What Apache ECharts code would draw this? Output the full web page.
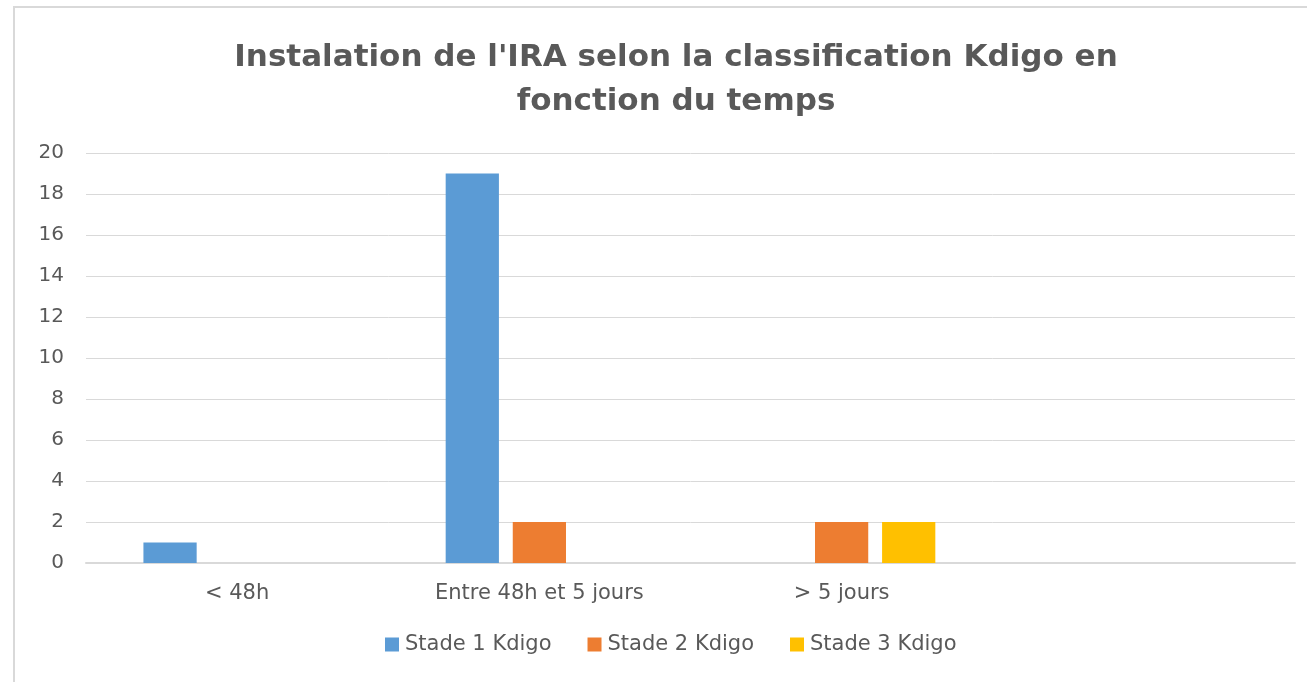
<!DOCTYPE html>
<html>
<head>
<meta charset="utf-8">
<script src="https://cdn.jsdelivr.net/npm/echarts@6/dist/echarts.min.js"></script>
<style>
  html, body { margin: 0; padding: 0; background: #fff; }
  #chart-container { width: 1307px; height: 682px; }
</style>
</head>
<body>
<div id="chart-container"></div>
<script>
const categories = ["< 48h", "Entre 48h et 5 jours", "> 5 jours", ""];
const stade1 = [1, 19, null, null];
const stade2 = [null, 2, 2, null];
const stade3 = [null, null, 2, null];

(() => {
  var dom = document.getElementById("chart-container");
  var chart = echarts.init(dom, null, { renderer: "canvas" });
  const font = "'DejaVu Sans', sans-serif";
  const option = {
    animation: false,
    title: {
      text: "Instalation de l'IRA selon la classification Kdigo en\nfonction du temps",
      left: 671,
      top: 31,
      textAlign: "center",
      textStyle: {
        fontFamily: font,
        fontSize: 31,
        fontWeight: "bold",
        color: "#595959",
        lineHeight: 44,
      },
    },
    graphic: [
      {
        type: "rect",
        shape: { x: 14, y: 7, width: 1320, height: 700 },
        style: { fill: "none", stroke: "#d9d9d9", lineWidth: 2 },
        silent: true,
      },
    ],
    legend: {
      bottom: 22,
      left: 380,
      itemWidth: 14,
      itemHeight: 14,
      itemGap: 36,
      icon: "rect",
      textStyle: { fontFamily: font, fontSize: 21, color: "#595959", padding: [0, 0, 0, 1] },
      data: ["Stade 1 Kdigo", "Stade 2 Kdigo", "Stade 3 Kdigo"],
    },
    grid: { left: 86, right: 12, top: 153, bottom: 119, containLabel: false },
    xAxis: {
      type: "category",
      data: categories,
      axisLine: { lineStyle: { color: "#d9d9d9", width: 2 } },
      axisTick: { show: false },
      axisLabel: { fontFamily: font, fontSize: 21, color: "#595959", margin: 20 },
    },
    yAxis: {
      type: "value",
      min: 0,
      max: 20,
      interval: 2,
      axisLine: { show: false },
      axisTick: { show: false },
      splitLine: { lineStyle: { color: "#d9d9d9", width: 1 } },
      axisLabel: { fontFamily: font, fontSize: 20, color: "#595959", margin: 22 },
    },
    series: [
      { name: "Stade 1 Kdigo", type: "bar", data: stade1, color: "#5b9bd5", barGap: "26%", barCategoryGap: "38%" },
      { name: "Stade 2 Kdigo", type: "bar", data: stade2, color: "#ed7d31" },
      { name: "Stade 3 Kdigo", type: "bar", data: stade3, color: "#ffc000" },
    ],
  };
  chart.setOption(option);
  window.addEventListener("resize", chart.resize);
})();
</script>
</body>
</html>
